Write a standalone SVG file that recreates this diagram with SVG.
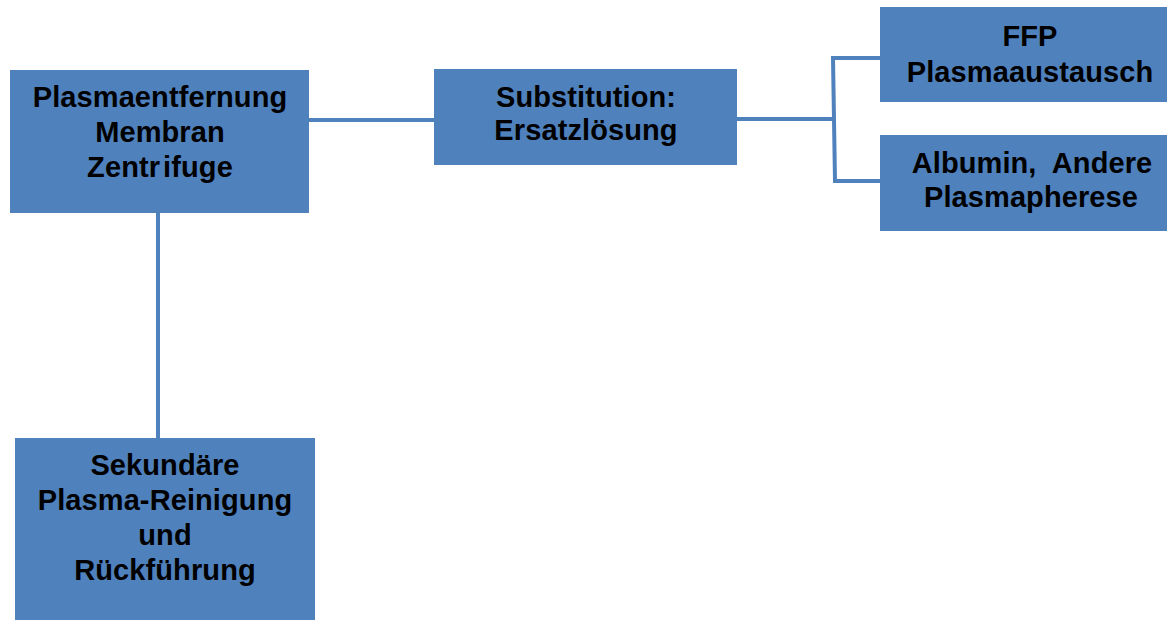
<svg xmlns="http://www.w3.org/2000/svg" width="1167" height="621" viewBox="0 0 1167 621">
  <style>
    .box { fill: #4F81BD; }
    .lbl { font-family: "Liberation Sans", Arial, sans-serif; font-weight: bold; font-size: 29px; letter-spacing: 0.1px; fill: #000; text-anchor: middle; }
    .wire { fill: none; stroke: #4F81BD; stroke-width: 4; }
  </style>
  <rect width="1167" height="621" fill="#fff"/>

  <g id="connectors">
    <line class="wire" x1="309" y1="120" x2="434" y2="120"/>
    <line class="wire" x1="158" y1="213" x2="158" y2="438"/>
    <line class="wire" x1="737" y1="119" x2="834" y2="119"/>
    <path class="wire" d="M880 58 L833 58 L835 181 L880 181"/>
  </g>

  <g id="node-plasmaentfernung">
    <rect class="box" x="10" y="70" width="299" height="143"/>
    <text class="lbl" x="160" y="107">Plasmaentfernung</text>
    <text class="lbl" x="160" y="142">Membran</text>
    <text class="lbl" x="160" y="177"><tspan>Zentr</tspan><tspan dx="3">ifuge</tspan></text>
  </g>

  <g id="node-substitution">
    <rect class="box" x="434" y="69" width="303" height="96"/>
    <text class="lbl" x="586" y="107">Substitution:</text>
    <text class="lbl" x="586" y="140">Ersatzlösung</text>
  </g>

  <g id="node-ffp">
    <rect class="box" x="880" y="7" width="287" height="95"/>
    <text class="lbl" x="1030" y="46">FFP</text>
    <text class="lbl" x="1030" y="82">Plasmaaustausch</text>
  </g>

  <g id="node-albumin">
    <rect class="box" x="880" y="135" width="287" height="96"/>
    <text class="lbl" x="1032" y="173" xml:space="preserve">Albumin,  Andere</text>
    <text class="lbl" x="1031" y="207">Plasmapherese</text>
  </g>

  <g id="node-sekundaer">
    <rect class="box" x="15" y="438" width="300" height="182"/>
    <text class="lbl" x="165" y="475">Sekundäre</text>
    <text class="lbl" x="165" y="510">Plasma-Reinigung</text>
    <text class="lbl" x="165" y="545">und</text>
    <text class="lbl" x="165" y="580">Rückführung</text>
  </g>
</svg>
